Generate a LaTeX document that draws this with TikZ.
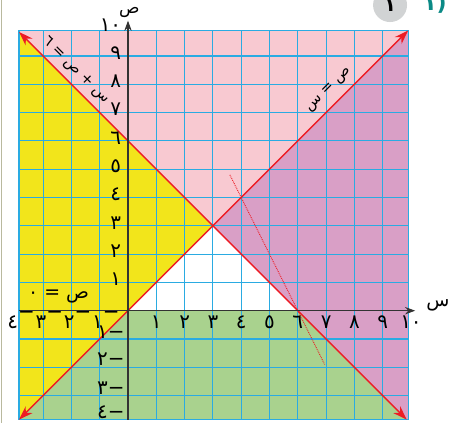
\documentclass[tikz,border=0pt]{standalone}
\usepackage{fontspec}
\newfontfamily\arabicfont[Script=Arabic]{DejaVu Sans}
\TeXXeTstate=1
\usetikzlibrary{arrows.meta}
\definecolor{regPink}{HTML}{F8C9D1}
\definecolor{regYellow}{HTML}{F2E51B}
\definecolor{regMauve}{HTML}{D99FC6}
\definecolor{regGreen}{HTML}{A9D28E}
\definecolor{gridBlue}{HTML}{2AABE2}
\definecolor{lineRed}{HTML}{ED1C24}
\definecolor{axisGray}{HTML}{333333}
\definecolor{badgeGray}{HTML}{D1D3D4}
\definecolor{badgeTeal}{HTML}{0B8A86}
\definecolor{pageEdge}{HTML}{B9B99E}

\begin{document}
\begin{tikzpicture}[
  font=\arabicfont\fontsize{19}{21}\selectfont,
  gridline/.style={draw=gridBlue, line width=1.1pt},
  boundLine/.style={{Stealth[length=5mm, width=3.4mm]}-{Stealth[length=5mm, width=3.4mm]}, lineRed, line width=1.4pt},
  guideLine/.style={lineRed, line width=0.9pt, densely dotted},
  axisLine/.style={-{Stealth[length=3.6mm, width=2.6mm]}, axisGray, line width=1.3pt},
  tickLabel/.style={inner sep=1pt, text=black, font=\arabicfont\fontsize{20}{22}\selectfont},
  eqLabel/.style={inner sep=1pt, text=black},
  slantLabel/.style={inner sep=1pt, text=black, font=\arabicfont\fontsize{15}{17}\selectfont},
  badge/.style={circle, fill=badgeGray, minimum size=1.2cm, inner sep=0pt}
]

  \useasboundingbox[fill=white] (-4.523,-3.968) rectangle (11.979,10.979);
  \draw[pageEdge, line width=1pt] (-4.47,-3.968) -- (-4.47,10.979);

  \coordinate (BL) at (-3.85,-3.85);
  \coordinate (TR) at (9.9,9.9);
  \coordinate (TL) at (-3.85,9.9);
  \coordinate (BR) at (9.9,-3.85);
  \coordinate (L1) at (-3.85,9.85);
  \coordinate (L2) at (9.85,-3.85);
  \coordinate (O) at (0,0);
  \coordinate (V) at (3,3);
  \coordinate (Q) at (6,0);

  \fill[regYellow] (BL) -- (V) -- (L1) -- (TL) -- cycle;
  \fill[regPink] (L1) -- (V) -- (TR) -- (TL) -- cycle;
  \fill[regMauve] (TR) -- (V) -- (L2) -- (BR) -- cycle;
  \fill[regGreen] (O) -- (Q) -- (L2) -- (BL) -- cycle;

  \draw[gridline] (BL) grid (TR);
  \draw[gridline] (BL) rectangle (TR);

  \coordinate (D1) at (3.6,4.8);
  \coordinate (D2) at (6.95,-1.9);
  \draw[guideLine] (D1) -- (D2);

  \draw[boundLine] (BL) -- (TR);
  \draw[boundLine] (L1) -- (L2);

  \coordinate (xs) at (-3.85,0);
  \coordinate (xe) at (10.15,0);
  \coordinate (ys) at (0,-3.85);
  \coordinate (ye) at (0,10.25);
  \draw[axisLine] (xs) -- (xe);
  \draw[axisLine] (ys) -- (ye);
  \node[eqLabel] (xlab) at (10.95,0.2) {س};
  \node[eqLabel, font=\arabicfont\fontsize{17}{19}\selectfont] (ylab) at (0.05,10.55) {ص};

  \foreach \k/\d in {1/١,2/٢,3/٣,4/٤,5/٥,6/٦,7/٧,8/٨,9/٩,10/١٠}
    \node[tickLabel, anchor=base] (xl\k) at (\k,-0.64) {\d};
  \foreach \k/\d in {1/١,2/٢,3/٣,4/٤,5/٥,6/٦,7/٧,8/٨,9/٩,10/١٠}
    \node[tickLabel, anchor=base east] (yl\k) at (-0.2,\k-0.12) {\d};
  \foreach \k/\d in {1/١,2/٢,3/٣,4/٤}
    \node[tickLabel, anchor=base] (xn\k) at (-\k+0.22,-0.64) {\d\raisebox{10pt}{−}};
  \foreach \k/\d/\y in {1/١/-0.97,2/٢/-1.95,3/٣/-2.95,4/٤/-3.8}
    \node[tickLabel, anchor=base east] (yn\k) at (-0.08,\y) {\d\hbox{−}};

  \node[slantLabel, rotate=-45] (eqA) at (-1.85,8.5) {\beginR س + ص = ٦\endR};
  \node[slantLabel, rotate=45] (eqB) at (7.1,7.8) {\beginR ص = س\endR};
  \node[eqLabel] (eqC) at (-2.45,0.5) {\beginR ص = ٠\endR};

  \node[badge] (num) at (9.26,10.8) {\textbf{١}};
  \node[text=badgeTeal, font=\arabicfont\bfseries\fontsize{22}{24}\selectfont] (part) at (10.85,10.85) {(١};

\end{tikzpicture}
\end{document}
